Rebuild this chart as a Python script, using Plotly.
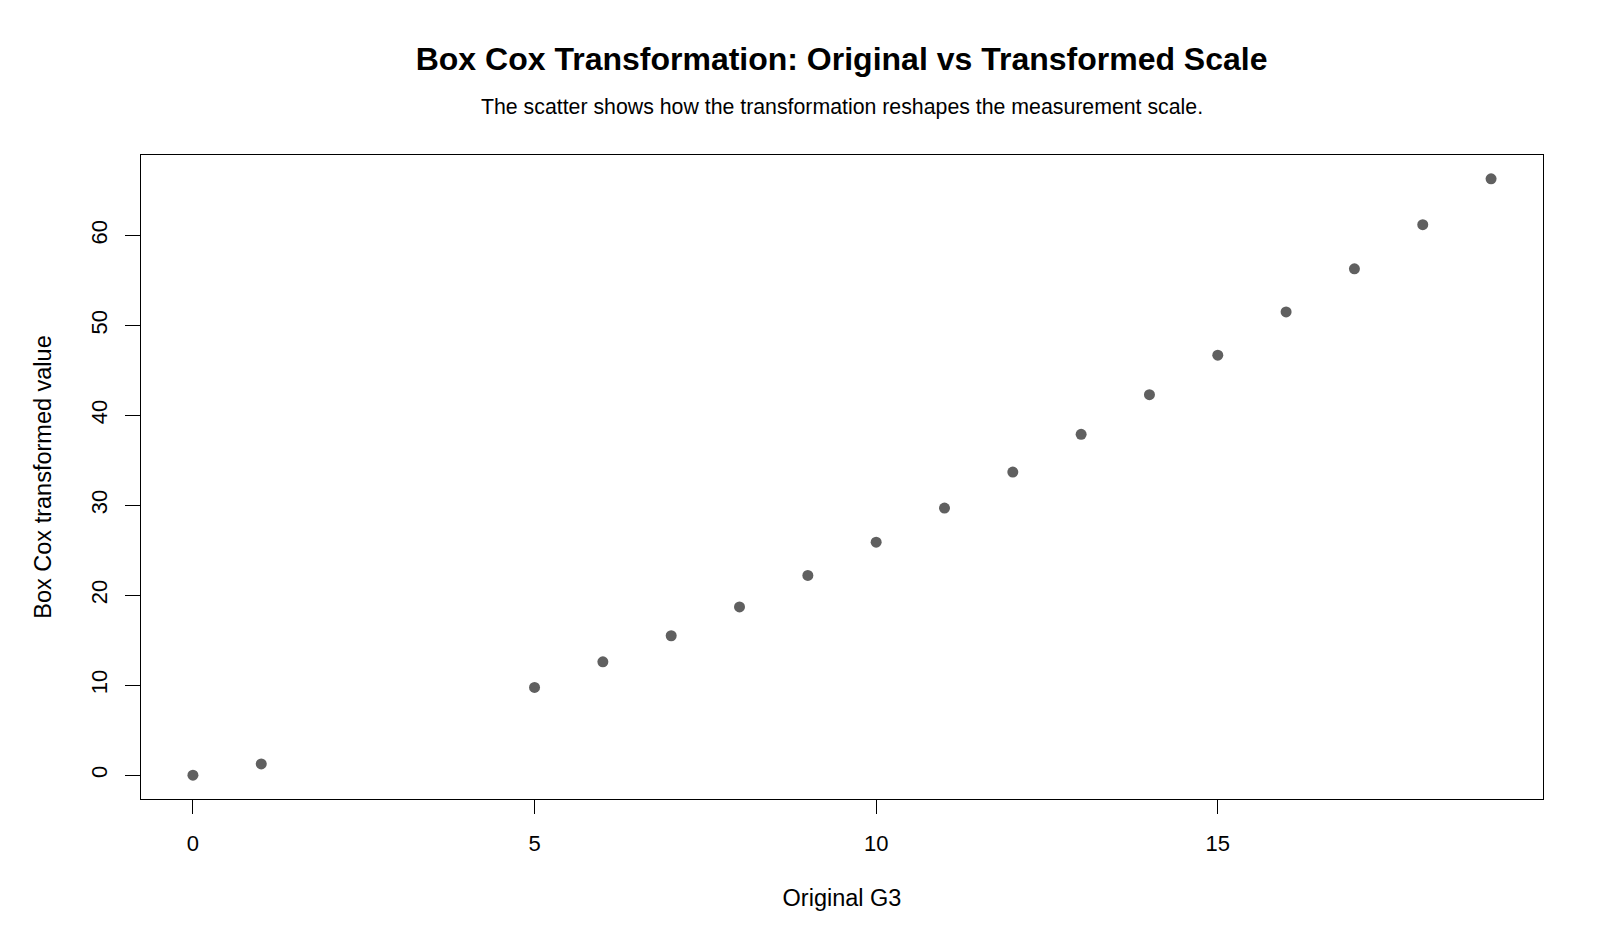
import plotly.graph_objects as go

original_g3 = [0, 1, 5, 6, 7, 8, 9, 10, 11, 12, 13, 14, 15, 16, 17, 18, 19]
boxcox_value = [0.0, 1.25, 9.75, 12.6, 15.5, 18.7, 22.2, 25.9, 29.7, 33.7, 37.9,
                42.3, 46.7, 51.5, 56.3, 61.2, 66.3]
x_ticks = [0, 5, 10, 15]
y_ticks = [0, 10, 20, 30, 40, 50, 60]

title_text = "Box Cox Transformation: Original vs Transformed Scale"
subtitle_text = "The scatter shows how the transformation reshapes the measurement scale."

FONT = "Liberation Sans, Arial, sans-serif"

fig = go.Figure()
fig.add_trace(go.Scatter(
    x=original_g3, y=boxcox_value, mode="markers",
    marker=dict(color="#606060", size=11, line=dict(width=0)),
    showlegend=False,
))

xpad = (max(original_g3) - min(original_g3)) * 0.04
ypad = (max(boxcox_value) - min(boxcox_value)) * 0.04

fig.update_layout(
    width=1600, height=941,
    margin=dict(l=141, r=57, t=155, b=142),
    paper_bgcolor="white", plot_bgcolor="white",
    font=dict(family=FONT, color="black", size=22),
    title=dict(text="<b>" + title_text + "</b>", x=0.526, xanchor="center",
               y=1 - 59 / 941, yanchor="middle", font=dict(size=32, family=FONT)),
    xaxis=dict(
        range=[min(original_g3) - xpad, max(original_g3) + xpad],
        tickvals=x_ticks, ticktext=[str(v) for v in x_ticks],
        ticks="outside", ticklen=14, tickwidth=1, tickcolor="black",
        ticklabelstandoff=11,
        showgrid=False, zeroline=False, showline=True, linecolor="black", linewidth=1,
        mirror=True, tickfont=dict(size=22),
        title=dict(text="Original G3", font=dict(size=23.5), standoff=34),
    ),
    yaxis=dict(
        range=[min(boxcox_value) - ypad, max(boxcox_value) + ypad],
        tickvals=y_ticks, ticktext=[str(v) for v in y_ticks],
        ticks="outside", ticklen=15, tickwidth=1, tickcolor="black",
        tickangle=-90, ticklabelstandoff=9,
        showgrid=False, zeroline=False, showline=True, linecolor="black", linewidth=1,
        mirror=True, tickfont=dict(size=22),
        title=dict(text="Box Cox transformed value", font=dict(size=23.5), standoff=28),
    ),
    annotations=[dict(
        text=subtitle_text, xref="paper", yref="paper",
        x=0.5, y=1 + (155 - 107) / (941 - 155 - 142), xanchor="center", yanchor="middle",
        showarrow=False, font=dict(size=21.3, family=FONT),
    )],
)

fig.write_html("out.html")
